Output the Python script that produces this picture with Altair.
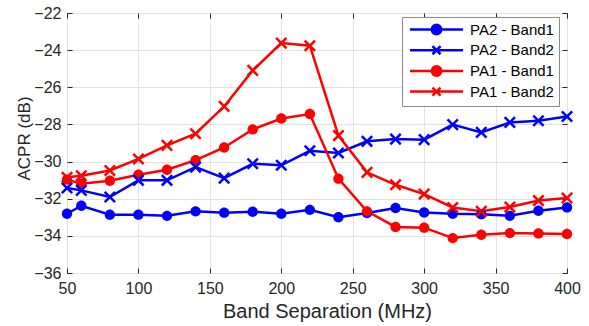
import altair as alt
import pandas as pd

# ---- data ----
x_mhz = [50, 60, 80, 100, 120, 140, 160, 180, 200, 220, 240, 260, 280, 300, 320, 340, 360, 380, 400]
pa2_band1 = [-32.81, -32.38, -32.86, -32.86, -32.92, -32.68, -32.75, -32.70, -32.81, -32.60,
             -33.00, -32.77, -32.50, -32.74, -32.81, -32.83, -32.92, -32.65, -32.47]
pa2_band2 = [-31.42, -31.55, -31.91, -31.01, -31.01, -30.30, -30.89, -30.12, -30.20, -29.42,
             -29.54, -28.91, -28.79, -28.82, -28.01, -28.43, -27.89, -27.80, -27.57]
pa1_band1 = [-30.97, -31.19, -31.03, -30.71, -30.44, -29.92, -29.24, -28.27, -27.68, -27.44,
             -30.92, -32.68, -33.52, -33.56, -34.12, -33.94, -33.85, -33.87, -33.90]
pa1_band2 = [-30.85, -30.76, -30.48, -29.86, -29.13, -28.50, -27.03, -25.09, -23.62, -23.76,
             -28.60, -30.58, -31.25, -31.75, -32.47, -32.68, -32.45, -32.10, -31.96]

series_names = ["PA2 - Band1", "PA2 - Band2", "PA1 - Band1", "PA1 - Band2"]
series_values = [pa2_band1, pa2_band2, pa1_band1, pa1_band2]
series_colors = ["#0000ff", "#0000ff", "#ff0000", "#ff0000"]

x_ticks = [50, 100, 150, 200, 250, 300, 350, 400]
y_ticks = [-36, -34, -32, -30, -28, -26, -24, -22]

rows = []
for name, vals in zip(series_names, series_values):
    for xv, yv in zip(x_mhz, vals):
        rows.append({"series": name, "x": xv, "y": yv,
                     "marker": "circle" if name.endswith("Band1") else "cross"})
df = pd.DataFrame(rows)

FONT = "Liberation Sans"
TXT = "#262626"

CIRCLE = "M-1.15,0A1.15,1.15 0 1,0 1.15,0A1.15,1.15 0 1,0 -1.15,0Z"
CROSS = "M-1.15,-1.15L1.15,1.15M-1.15,1.15L1.15,-1.15"
LEG_CIRCLE = "M-5.9,0H5.9M-1.05,0A1.05,1.05 0 1,0 1.05,0A1.05,1.05 0 1,0 -1.05,0Z"
LEG_CROSS = "M-5.9,0H5.9M-0.9,-0.9L0.9,0.9M-0.9,0.9L0.9,-0.9"

xscale = alt.Scale(domain=[50, 400], nice=False, zero=False)
yscale = alt.Scale(domain=[-36, -22], nice=False, zero=False)
cscale = alt.Scale(domain=series_names, range=series_colors)

base = alt.Chart(df)

main_x = alt.Axis(orient="bottom", values=x_ticks, ticks=False, domain=False, grid=True,
                  gridColor="#e2e2e2", labelFontSize=16, labelFont=FONT, labelColor=TXT,
                  labelPadding=7, labelFlush=False, labelOverlap=False,
                  title="Band Separation (MHz)", titleFont=FONT, titleFontSize=20,
                  titleFontWeight="normal", titleColor=TXT, titleX=260, titleY=44,
                  titleBaseline="alphabetic", titleAlign="center")
main_y = alt.Axis(orient="left", values=y_ticks, ticks=False, domain=False, grid=True,
                  gridColor="#e2e2e2", labelFontSize=16, labelFont=FONT, labelColor=TXT,
                  labelPadding=6, labelFlush=False, labelOverlap=False,
                  title="ACPR (dB)", titleFont=FONT, titleFontSize=17,
                  titleFontWeight="normal", titleColor=TXT, titleAngle=270,
                  titleX=-38, titleY=125, titleBaseline="alphabetic", titleAlign="center")


def inner_axis(orient, values):
    return alt.Axis(orient=orient, values=values, offset=-5, tickSize=5, ticks=True,
                    tickColor=TXT, tickWidth=1, labels=False, domain=False, grid=False,
                    title=None)


lines = base.mark_line(strokeWidth=2.5).encode(
    x=alt.X("x:Q", scale=xscale, axis=main_x),
    y=alt.Y("y:Q", scale=yscale, axis=main_y),
    color=alt.Color("series:N", scale=cscale, legend=None),
)

circles = base.transform_filter(alt.datum.marker == "circle").mark_point(
    filled=True, shape=CIRCLE, size=81, opacity=1
).encode(
    x=alt.X("x:Q", scale=xscale, axis=inner_axis("bottom", x_ticks)),
    y=alt.Y("y:Q", scale=yscale, axis=inner_axis("left", y_ticks)),
    color=alt.Color("series:N", scale=cscale, legend=None),
)

crosses = base.transform_filter(alt.datum.marker == "cross").mark_point(
    filled=False, shape=CROSS, size=81, opacity=1, strokeWidth=2.5
).encode(
    x=alt.X("x:Q", scale=xscale, axis=inner_axis("top", x_ticks)),
    y=alt.Y("y:Q", scale=yscale, axis=inner_axis("right", y_ticks)),
    color=alt.Color("series:N", scale=cscale, legend=None),
)

legend = alt.Legend(
    title=None, orient="none", legendX=335, legendY=4, padding=5, rowPadding=0.7,
    symbolSize=81, symbolStrokeWidth=2.5, symbolOffset=22, symbolOpacity=1,
    labelOffset=26, labelFont=FONT, labelFontSize=15, labelColor="#000000",
    labelExpr="datum.label + '\u00a0\u00a0\u00a0'",
    fillColor="#ffffff", strokeColor="#8a8a8a",
)

legend_layer = base.mark_point(filled=True, size=81, opacity=0, strokeWidth=2.5).encode(
    x=alt.X("x:Q", scale=xscale, axis=None),
    y=alt.Y("y:Q", scale=yscale, axis=None),
    color=alt.Color("series:N", scale=cscale, legend=legend),
    stroke=alt.Stroke("series:N", scale=cscale, legend=legend),
    shape=alt.Shape("series:N", scale=alt.Scale(domain=series_names,
                                                range=[LEG_CIRCLE, LEG_CROSS, LEG_CIRCLE, LEG_CROSS]),
                    legend=legend),
)

chart = alt.layer(lines, circles, crosses, legend_layer).resolve_axis(
    x="independent", y="independent"
).resolve_legend(
    color="independent", stroke="independent", shape="independent"
).properties(
    width=500, height=260,
    autosize=alt.AutoSizeParams(type="none"),
    padding={"left": 67, "top": 13, "right": 22, "bottom": 53},
    background="#ffffff",
).configure_view(stroke=TXT, strokeWidth=1)

chart.save("out.html", embed_options={"renderer": "svg", "actions": False})
